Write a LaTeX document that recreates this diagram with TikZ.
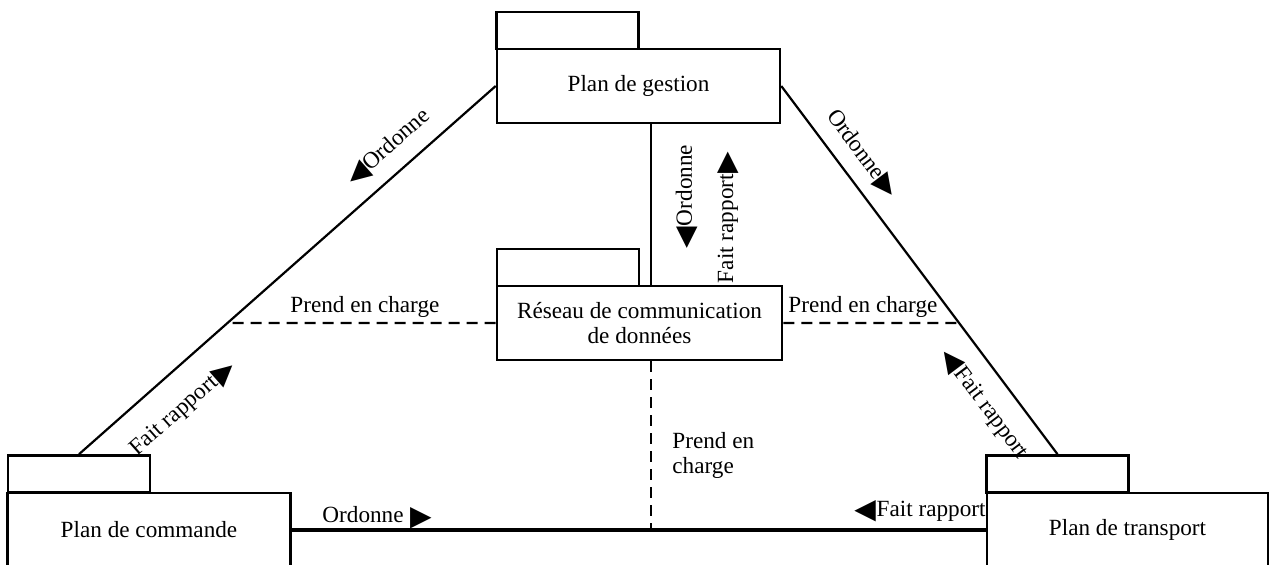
\documentclass[tikz,border=0pt]{standalone}
\usepackage{fontspec}
\setmainfont{Liberation Serif}
\newfontfamily\symfont{DejaVu Sans}
\newcommand\labfont{\fontsize{11.6pt}{12.6pt}\selectfont}
\newcommand\trisym[1]{\smash{\raisebox{-1.2pt}{\symfont\fontsize{14pt}{14pt}\selectfont #1}}}
\newcommand\arrl{\trisym{◀}\hspace{0.3pt}}
\newcommand\arrr{\hspace{0.3pt}\trisym{▶}}
\begin{document}
\begin{tikzpicture}[x=0.5pt,y=-0.5pt,
  plane/.style={draw, line width=1.3pt, inner sep=0pt, font=\labfont, align=center,
                minimum width=#1, minimum height=37pt},
  plane/.default=141.5pt,
  tab/.style={draw, line width=1.3pt, inner sep=0pt, minimum width=71pt, minimum height=18.5pt},
  link/.style={line width=1.1pt},
  mainlink/.style={line width=1.9pt},
  support/.style={line width=1.1pt, dash pattern=on 5.5pt off 3.5pt},
  lbl/.style={font=\labfont, inner sep=0pt}]
\useasboundingbox (0,0) rectangle (1270,564);

% planes with their tabs
\node[tab] (gtab) at (567.5,30.5) {};
\node[plane] (gestion) at (638.5,86) {Plan de gestion};
\node[tab] (rtab) at (568,267.5) {};
\node[plane=142.5pt] (reseau) at (639.5,323) {Réseau de communication\\de données};
\node[tab] (ctab) at (79,474) {};
\node[plane] (commande) at (149,530) {Plan de commande};
\node[tab] (ttab) at (1057.5,474) {};
\node[plane=140.5pt] (transport) at (1127.5,530) {Plan de transport};

\coordinate (vx) at (651,0);

% solid relations
\draw[link] (gestion.west) -- (ctab.north);
\draw[link] (gestion.east) -- (ttab.north);
\draw[line width=1.3pt] (gestion.south -| vx) -- (rtab.north -| vx) -- (reseau.north -| vx);
\draw[mainlink] (commande.east) -- (transport.west);

% support relations of the data communication network
\draw[support] (reseau.west) -- (intersection of gestion.west--ctab.north and reseau.west--reseau.east);
\draw[support] (reseau.east) -- (intersection of gestion.east--ttab.north and reseau.east--reseau.west);
\draw[support] (reseau.south -| vx) -- (commande.east -| vx);

% labels
\node[lbl, rotate=41.4] (l1) at (387,146) {\arrl Ordonne};
\node[lbl, rotate=41.4] (l2) at (183,409) {Fait rapport\arrr};
\node[lbl, rotate=-53] (l3) at (863.5,152.5) {Ordonne\arrr};
\node[lbl, rotate=-53] (l4) at (983.5,404.5) {\arrl Fait rapport};
\node[lbl, rotate=90] (l5) at (684,196.5) {\arrl Ordonne};
\node[lbl, rotate=90] (l6) at (728,217.5) {Fait rapport\arrr};
\node[lbl] (l7) at (377,515) {Ordonne \arrr};
\node[lbl] (l8) at (920,511) {\arrl Fait rapport};
\node[lbl, anchor=base west] (l9) at (290,312) {Prend en charge};
\node[lbl, anchor=base west] (l10) at (788,312) {Prend en charge};
\node[lbl, anchor=north west, align=left] (l11) at (672,432) {Prend en\\charge};
\end{tikzpicture}
\end{document}
